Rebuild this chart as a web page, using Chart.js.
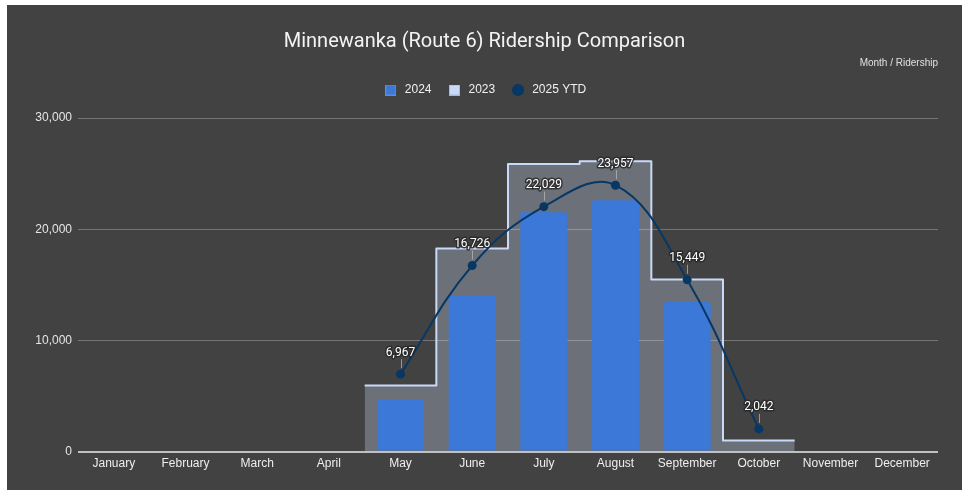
<!DOCTYPE html>
<html>
<head>
<meta charset="utf-8">
<script src="https://cdn.jsdelivr.net/npm/chart.js@4/dist/chart.umd.min.js"></script>
<style>
  html, body { margin: 0; padding: 0; background: #ffffff; }
  #wrap { position: absolute; left: 7px; top: 5px; width: 955px; height: 485px; background: #424242; }
  canvas { display: block; }
</style>
</head>
<body>
<div id="wrap"><canvas id="c" width="955" height="485"></canvas></div>
<script>
// ---- data ----
const months = ['January','February','March','April','May','June','July','August','September','October','November','December'];
const ridership2024 = [null, null, null, null, 4685, 14054, 21532, 22613, 13450, null, null, null];
const ridership2023 = [null, null, null, null, 5950, 18260, 25860, 26100, 15470, 990, null, null];
const ridership2025 = [null, null, null, null, 6967, 16726, 22029, 23957, 15449, 2042, null, null];
const seriesNames = ['2024', '2023', '2025 YTD'];
const yTickValues = [0, 10000, 20000, 30000];
const chartTitle = 'Minnewanka (Route 6) Ridership Comparison';
const chartSubtitle = 'Month / Ridership';

// ---- colours ----
const C2024 = '#3c78d8';
const C2023 = '#c9daf8';
const C2025 = '#073763';

// stepped-area points: each month's value spans its whole category slot
function stepPoints(vals) {
  const pts = [];
  let last = null;
  vals.forEach((v, i) => {
    if (v !== null) { pts.push({x: i - 0.5, y: v}); last = {i, v}; }
  });
  if (last) pts.push({x: last.i + 0.5, y: last.v});
  return pts;
}

function icon(kind, color, border) {
  const cv = document.createElement('canvas');
  const s = kind === 'circle' ? 12 : 11;
  cv.width = s; cv.height = s;
  const g = cv.getContext('2d');
  g.fillStyle = color;
  if (kind === 'circle') {
    g.beginPath(); g.arc(s / 2, s / 2, s / 2, 0, Math.PI * 2); g.fill();
  } else {
    g.fillRect(0, 0, s, s);
    if (border) { g.strokeStyle = border; g.lineWidth = 1; g.strokeRect(0.5, 0.5, s - 1, s - 1); }
  }
  return cv;
}
const icons = [icon('rect', C2024, '#5a8ee0'), icon('rect', C2023, '#aab8d0'), icon('circle', C2025)];

const legendPad = {
  id: 'legendPad',
  afterInit(chart) {
    const lg = chart.legend;
    const f = lg.fit;
    lg.fit = function () { f.call(this); this.height += 12; };
  }
};

const labelPlugin = {
  id: 'pointLabels',
  afterDatasetsDraw(chart) {
    const meta = chart.getDatasetMeta(2);
    const ctx = chart.ctx;
    ctx.save();
    ctx.font = '12px Roboto, "Liberation Sans", sans-serif';
    ctx.textAlign = 'center';
    ctx.textBaseline = 'middle';
    meta.data.forEach((el, i) => {
      const v = ridership2025[i];
      if (v === null || v === undefined) return;
      const x = el.x, y = el.y;
      ctx.strokeStyle = 'rgba(190,190,190,0.7)';
      ctx.lineWidth = 1;
      ctx.beginPath();
      ctx.moveTo(Math.round(x) + 0.5, y - 6);
      ctx.lineTo(Math.round(x) + 0.5, y - 15);
      ctx.stroke();
      const txt = v.toLocaleString('en-US');
      ctx.lineJoin = 'round';
      ctx.lineWidth = 3;
      ctx.strokeStyle = 'rgba(40,40,40,0.85)';
      ctx.strokeText(txt, x, y - 21.5);
      ctx.fillStyle = '#ffffff';
      ctx.fillText(txt, x, y - 21.5);
    });
    ctx.restore();
  }
};

new Chart(document.getElementById('c'), {
  type: 'bar',
  data: {
    labels: months,
    datasets: [
      {
        type: 'bar',
        label: seriesNames[0],
        data: ridership2024,
        backgroundColor: C2024,
        borderRadius: {topLeft: 3, topRight: 3, bottomLeft: 0, bottomRight: 0},
        borderSkipped: false,
        barPercentage: 0.655,
        categoryPercentage: 1,
        grouped: false,
        order: 2
      },
      {
        type: 'line',
        label: seriesNames[1],
        data: stepPoints(ridership2023),
        xAxisID: 'x2',
        stepped: 'before',
        borderColor: C2023,
        borderWidth: 2,
        borderJoinStyle: 'round',
        backgroundColor: 'rgba(201,218,248,0.3)',
        fill: 'origin',
        pointRadius: 0,
        order: 3
      },
      {
        type: 'line',
        label: seriesNames[2],
        data: ridership2025,
        borderColor: C2025,
        backgroundColor: C2025,
        borderWidth: 2,
        tension: 0.4,
        pointRadius: 4.5,
        pointBackgroundColor: C2025,
        pointBorderWidth: 0,
        fill: false,
        order: 1
      }
    ]
  },
  options: {
    responsive: false,
    animation: false,
    events: [],
    layout: { padding: { top: 0, left: 24, right: 24, bottom: 14 } },
    plugins: {
      tooltip: { enabled: false },
      title: {
        display: true,
        text: chartTitle,
        color: '#f3f3f3',
        font: { family: 'Roboto, "Liberation Sans", sans-serif', size: 20, weight: 'normal' },
        padding: { top: 25, bottom: 0 }
      },
      subtitle: {
        display: true,
        text: chartSubtitle,
        align: 'end',
        color: '#e0e0e0',
        font: { family: '"Liberation Sans", Arial, sans-serif', size: 10, weight: 'normal' },
        padding: { top: 3, bottom: 0 }
      },
      legend: {
        display: true,
        position: 'top',
        labels: {
          color: '#f0f0f0',
          font: { family: '"Liberation Sans", Arial, sans-serif', size: 12 },
          usePointStyle: true,
          pointStyleWidth: 16,
          padding: 15,
          generateLabels(chart) {
            return chart.data.datasets.map((ds, i) => ({
              text: ds.label,
              pointStyle: icons[i],
              fillStyle: 'transparent',
              strokeStyle: 'transparent',
              lineWidth: 0,
              hidden: false,
              datasetIndex: i,
              fontColor: '#f0f0f0'
            }));
          }
        }
      }
    },
    scales: {
      x: {
        type: 'category',
        offset: true,
        grid: { display: false, drawTicks: false },
        border: { display: false },
        ticks: {
          color: '#eeeeee',
          padding: 5,
          maxRotation: 0,
          autoSkip: false,
          font: { family: '"Liberation Sans", Arial, sans-serif', size: 12 }
        }
      },
      x2: {
        type: 'linear',
        display: false,
        offset: false,
        grid: { offset: false },
        min: -0.5,
        max: months.length - 0.5
      },
      y: {
        min: yTickValues[0],
        max: yTickValues[yTickValues.length - 1],
        afterFit(scale) { scale.width = 47; },
        afterBuildTicks(scale) { scale.ticks = yTickValues.map(v => ({value: v})); },
        grid: {
          drawTicks: false,
          color: ctx => (ctx.tick && ctx.tick.value === 0) ? '#c0c0c0' : '#757575',
          lineWidth: ctx => (ctx.tick && ctx.tick.value === 0) ? 2 : 1
        },
        border: { display: false },
        ticks: {
          color: '#e6e6e6',
          padding: 6,
          font: { family: '"Liberation Sans", Arial, sans-serif', size: 12 },
          callback: v => v.toLocaleString('en-US')
        }
      }
    }
  },
  plugins: [legendPad, labelPlugin]
});
</script>
</body>
</html>
